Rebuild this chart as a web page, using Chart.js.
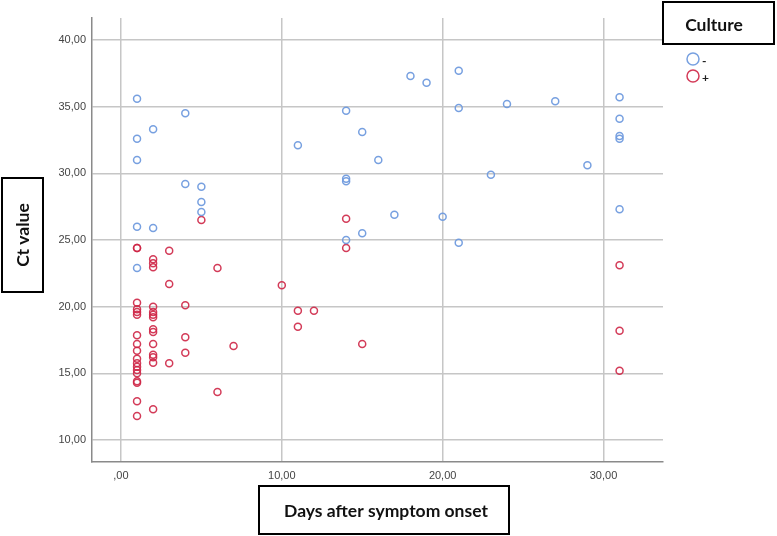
<!DOCTYPE html>
<html>
<head>
<meta charset="utf-8">
<script src="https://cdn.jsdelivr.net/npm/chart.js@4/dist/chart.umd.min.js"></script>
<style>
  html, body { margin: 0; padding: 0; background: #fff; }
  #wrap { width: 777px; height: 536px; position: relative; }
</style>
</head>
<body>
<div id="wrap"><canvas id="chart" width="777" height="536"></canvas></div>
<script>
// ============================================
// DATA
// ============================================
const seriesLabels = ['-', '+'];

// Culture negative
const negDays = [1, 1, 1, 1, 1, 2, 2, 4, 4, 5, 5, 5, 11, 14, 14, 14, 14, 15, 15, 16, 17, 18, 19, 20,
  21, 21, 21, 23, 24, 27, 29, 31, 31, 31, 31, 31];
const negCt = [35.6, 32.6, 31.0, 26.0, 22.9, 33.3, 25.9, 34.5, 29.2, 29.0, 27.85, 27.1, 32.1, 34.7, 29.6, 29.4, 25.0, 33.1, 25.5, 31.0, 26.9, 37.3, 36.8, 26.75,
  37.7, 34.9, 24.8, 29.9, 35.2, 35.4, 30.6, 35.7, 34.1, 32.8, 32.6, 27.3];

// Culture positive
const posDays = [1, 1, 1, 1, 1, 1, 1, 1, 1, 1, 1, 1, 1, 1, 1, 1, 1, 1,
  2, 2, 2, 2, 2, 2, 2, 2, 2, 2, 2, 2, 2, 2,
  3, 3, 3, 4, 4, 4, 5, 6, 6, 7, 10, 11, 11, 12, 14, 14, 15, 31, 31, 31];
const posCt = [24.4, 24.4, 20.3, 19.8, 19.6, 19.4, 17.85, 17.2, 16.7, 16.1, 15.75, 15.5, 15.25, 15.0, 14.4, 14.3, 12.9, 11.8,
  23.55, 23.25, 22.95, 20.0, 19.6, 19.4, 19.2, 18.3, 18.1, 17.2, 16.4, 16.2, 15.8, 12.3,
  24.2, 21.7, 15.75, 20.1, 17.7, 16.55, 26.5, 22.9, 13.6, 17.05, 21.6, 19.7, 18.5, 19.7, 26.6, 24.4, 17.2, 23.1, 18.2, 15.2];

const xTicks = [0, 10, 20, 30];
const yTicks = [10, 15, 20, 25, 30, 35, 40];

const BLUE = 'rgba(112, 155, 222, 0.95)';
const RED = 'rgba(206, 38, 70, 0.9)';
const TITLE_FONT = 'bold 17.5px Lato, "Open Sans", sans-serif';

function toPoints(xs, ys) {
  return xs.map((x, i) => ({ x: x, y: ys[i] }));
}

function fmtTick(value) {
  if (value === 0) return ',00';
  return value.toFixed(2).replace('.', ',');
}

// ============================================
// BOXED TITLES + LEGEND PLUGIN
// ============================================
const boxedTitles = {
  id: 'boxedTitles',
  afterDraw(chart) {
    const ctx = chart.ctx;
    ctx.save();
    ctx.strokeStyle = '#000';
    ctx.lineWidth = 2;
    ctx.fillStyle = '#111';
    ctx.textAlign = 'center';
    ctx.textBaseline = 'middle';
    ctx.font = TITLE_FONT;

    // y axis title
    ctx.strokeRect(2, 178, 41, 114);
    ctx.save();
    ctx.translate(23, 235);
    ctx.rotate(-Math.PI / 2);
    ctx.fillText('Ct value', 0, 0);
    ctx.restore();

    // x axis title
    ctx.strokeRect(259, 486, 250, 48);
    ctx.fillText('Days after symptom onset', 386, 511);

    // legend title
    ctx.strokeRect(663, 2, 111, 42);
    ctx.fillText('Culture', 714, 25);

    // legend entries
    const colors = [BLUE, RED];
    chart.data.datasets.forEach((ds, i) => {
      const cy = 59 + i * 17;
      ctx.beginPath();
      ctx.arc(693, cy, 6, 0, Math.PI * 2);
      ctx.strokeStyle = colors[i];
      ctx.lineWidth = 1.5;
      ctx.stroke();
      ctx.fillStyle = '#222';
      ctx.font = 'bold 12px Lato, "Open Sans", sans-serif';
      ctx.textAlign = 'left';
      ctx.fillText(ds.label, 702, cy + 2);
    });
    ctx.restore();
  }
};

// ============================================
// CHART
// ============================================
new Chart(document.getElementById('chart'), {
  type: 'scatter',
  data: {
    datasets: [
      {
        label: seriesLabels[0],
        data: toPoints(negDays, negCt),
        borderColor: BLUE,
        backgroundColor: 'rgba(0,0,0,0)',
        borderWidth: 1.5,
        pointRadius: 3.5,
        pointHoverRadius: 3.5
      },
      {
        label: seriesLabels[1],
        data: toPoints(posDays, posCt),
        borderColor: RED,
        backgroundColor: 'rgba(0,0,0,0)',
        borderWidth: 1.5,
        pointRadius: 3.5,
        pointHoverRadius: 3.5
      }
    ]
  },
  options: {
    responsive: false,
    animation: false,
    devicePixelRatio: 1,
    layout: { padding: { left: 0, top: 18, right: 114, bottom: 0 } },
    plugins: {
      legend: { display: false },
      tooltip: { enabled: false }
    },
    scales: {
      x: {
        type: 'linear',
        min: -1.8,
        max: 33.7,
        afterBuildTicks: s => { s.ticks = xTicks.map(v => ({ value: v })); },
        afterFit: s => { s.height = 74; },
        ticks: {
          padding: 7,
          color: '#444',
          font: { family: '"Liberation Sans", Arial, sans-serif', size: 11 },
          callback: v => fmtTick(v),
          autoSkip: false,
          maxRotation: 0
        },
        grid: { color: '#c6c6c6', lineWidth: 1.5, drawTicks: false },
        border: { color: '#8a8a8a', width: 1.5 }
      },
      y: {
        type: 'linear',
        min: 8.35,
        max: 41.65,
        afterBuildTicks: s => { s.ticks = yTicks.map(v => ({ value: v })); },
        afterFit: s => { s.width = 92; },
        ticks: {
          padding: 6,
          color: '#444',
          font: { family: '"Liberation Sans", Arial, sans-serif', size: 11 },
          callback: v => fmtTick(v),
          autoSkip: false
        },
        grid: { color: '#c6c6c6', lineWidth: 1.5, drawTicks: false },
        border: { color: '#8a8a8a', width: 1.5 }
      }
    }
  },
  plugins: [boxedTitles]
});
</script>
</body>
</html>
